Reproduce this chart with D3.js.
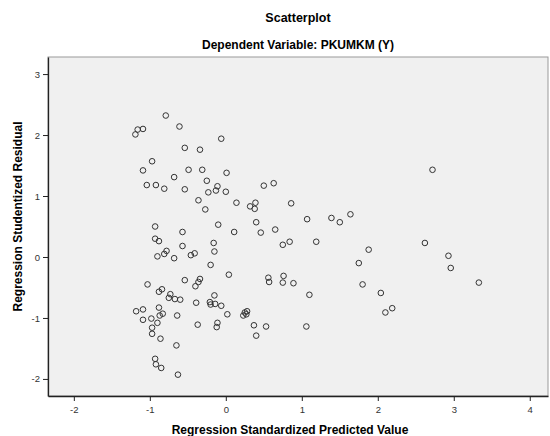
<!DOCTYPE html>
<html>
<head>
<meta charset="utf-8">
<script src="https://cdn.jsdelivr.net/npm/d3@7"></script>
<style>
  body { margin: 0; background: #fff; }
  text { font-family: "Liberation Sans", Arial, sans-serif; }
</style>
</head>
<body>
<div id="chart"></div>
<script>
// chart values
var chartTitle = "Scatterplot"
var chartSubtitle = "Dependent Variable: PKUMKM (Y)"
var xLabel = "Regression Standardized Predicted Value"
var yLabel = "Regression Studentized Residual"

var xTicks = [-2, -1, 0, 1, 2, 3, 4]
var yTicks = [-2, -1, 0, 1, 2, 3]

// standardized predicted values
var predicted = [
  -0.79, -1.16, -1.09, -1.19, -0.61, -0.06, -0.54, -0.34, -0.97, -1.09,
  -0.49, -0.31, -0.68, 0.01, -0.25, -1.04, -0.92, -0.81, -0.54, -0.11,
  -0.13, -0.23, 0.00, -0.36, -0.27, 0.14, -0.93, -0.57, -0.10, 0.11,
  -0.93, -0.88, -0.57, -0.16,
  -0.15, -0.78, -0.81, -0.90, -0.68, -0.46, -0.41, -0.20, 0.04, -1.03,
  -0.54, -0.34, -0.36, -0.40, -0.88, -0.84, -0.73, -0.75, -0.67, -0.60,
  -0.15, -0.39, -0.21, -0.20, -0.14, -0.06, -1.18, -1.09, -0.88, -1.09,
  -0.98, -0.87, -0.83, -0.64, -0.90, -0.97, -0.97, -0.86, -0.37, 0.02,
  -0.11, -0.12, -0.65, -0.93, -0.92, -0.85, -0.63,
  0.50, 0.63, 0.32, 0.39, 0.38, 0.86, 0.40, 0.46, 0.65, 1.07,
  1.39, 1.50, 1.64, 0.75, 0.84, 1.19, 1.88, 1.75, 0.56, 0.57,
  0.76, 0.75, 0.89, 1.10, 1.80, 2.04, 0.23, 0.25, 0.28, 0.27,
  0.37, 0.53, 0.40, 1.06,
  2.72, 2.62, 2.93, 2.96, 3.33, 2.19, 2.10
]

// studentized residuals
var residual = [
  2.32, 2.09, 2.10, 2.01, 2.14, 1.94, 1.79, 1.76, 1.57, 1.42,
  1.43, 1.43, 1.31, 1.38, 1.25, 1.18, 1.18, 1.12, 1.11, 1.16,
  1.09, 1.06, 1.07, 0.93, 0.78, 0.89, 0.50, 0.41, 0.53, 0.41,
  0.30, 0.26, 0.18, 0.23,
  0.09, 0.10, 0.05, 0.01, -0.02, 0.03, 0.06, -0.13, -0.29, -0.45,
  -0.38, -0.36, -0.41, -0.48, -0.57, -0.53, -0.61, -0.67, -0.69, -0.70,
  -0.63, -0.75, -0.74, -0.78, -0.77, -0.80, -0.89, -0.86, -0.83, -1.03,
  -1.01, -0.96, -0.93, -0.96, -1.08, -1.16, -1.26, -1.34, -1.11, -0.94,
  -1.08, -1.15, -1.45, -1.67, -1.76, -1.82, -1.93,
  1.17, 1.21, 0.83, 0.89, 0.79, 0.88, 0.57, 0.40, 0.45, 0.62,
  0.64, 0.57, 0.70, 0.20, 0.25, 0.25, 0.12, -0.10, -0.34, -0.41,
  -0.31, -0.42, -0.43, -0.62, -0.45, -0.59, -0.96, -0.91, -0.89, -0.94,
  -1.12, -1.14, -1.29, -1.14,
  1.43, 0.23, 0.02, -0.18, -0.42, -0.84, -0.91
]

var points = predicted.map(function(d, i) { return {x: d, y: residual[i]} })

var svgWidth = 550
var svgHeight = 436

var margin = {top: 57, right: 2, bottom: 40, left: 48}
var width = svgWidth - margin.left - margin.right
var height = svgHeight - margin.top - margin.bottom

var svg = d3.select("#chart")
  .append("svg")
  .attr("width", svgWidth)
  .attr("height", svgHeight)

// titles
svg.append("text")
  .attr("x", margin.left + width / 2)
  .attr("y", 22)
  .style("text-anchor", "middle")
  .style("font-size", "12.5px")
  .style("font-weight", "bold")
  .text(chartTitle)

svg.append("text")
  .attr("x", margin.left + width / 2)
  .attr("y", 49)
  .style("text-anchor", "middle")
  .style("font-size", "12px")
  .style("font-weight", "bold")
  .text(chartSubtitle)

var plot = svg.append("g")
  .attr("transform", `translate(${margin.left}, ${margin.top})`)

var xScale = d3.scaleLinear()
  .domain([-2.34, 4.24])
  .range([0, width])

var yScale = d3.scaleLinear()
  .domain([-2.28, 3.28])
  .range([height, 0])

// plot background
plot.append("rect")
  .attr("width", width)
  .attr("height", height)
  .attr("fill", "#f0f0f0")
  .attr("stroke", "#9a9a9a")
  .attr("stroke-width", 1)

// axes, labels written with a plain hyphen like the original
var fmt = d => String(d)
var bottomAxis = d3.axisBottom(xScale).tickValues(xTicks).tickFormat(fmt).tickSize(5).tickSizeOuter(0)
var leftAxis = d3.axisLeft(yScale).tickValues(yTicks).tickFormat(fmt).tickSize(5).tickSizeOuter(0)

var gx = plot.append("g")
  .attr("transform", `translate(0, ${height})`)
  .call(bottomAxis)

var gy = plot.append("g")
  .call(leftAxis)

;[gx, gy].forEach(function(g) {
  g.select(".domain").attr("stroke", "#222").attr("stroke-width", 1.3)
  g.selectAll(".tick line").attr("stroke", "#222")
  g.selectAll(".tick text")
    .style("font-size", "9.5px")
    .attr("fill", "#333")
})
gx.selectAll(".tick text").attr("dy", "0.9em")

svg.append("text")
  .attr("x", margin.left + width / 2 - 8)
  .attr("y", 434)
  .style("text-anchor", "middle")
  .style("font-size", "12px")
  .style("font-weight", "bold")
  .text(xLabel)

svg.append("text")
  .attr("transform", "rotate(-90)")
  .attr("x", -(margin.top + height / 2) + 10)
  .attr("y", 22)
  .style("text-anchor", "middle")
  .style("font-size", "12px")
  .style("font-weight", "bold")
  .text(yLabel)

// points
plot.selectAll("circle")
  .data(points)
  .enter()
  .append("circle")
  .attr("cx", d => xScale(d.x))
  .attr("cy", d => yScale(d.y))
  .attr("r", 2.8)
  .attr("fill", "none")
  .attr("stroke", "#333")
  .attr("stroke-width", 1)
</script>
</body>
</html>
